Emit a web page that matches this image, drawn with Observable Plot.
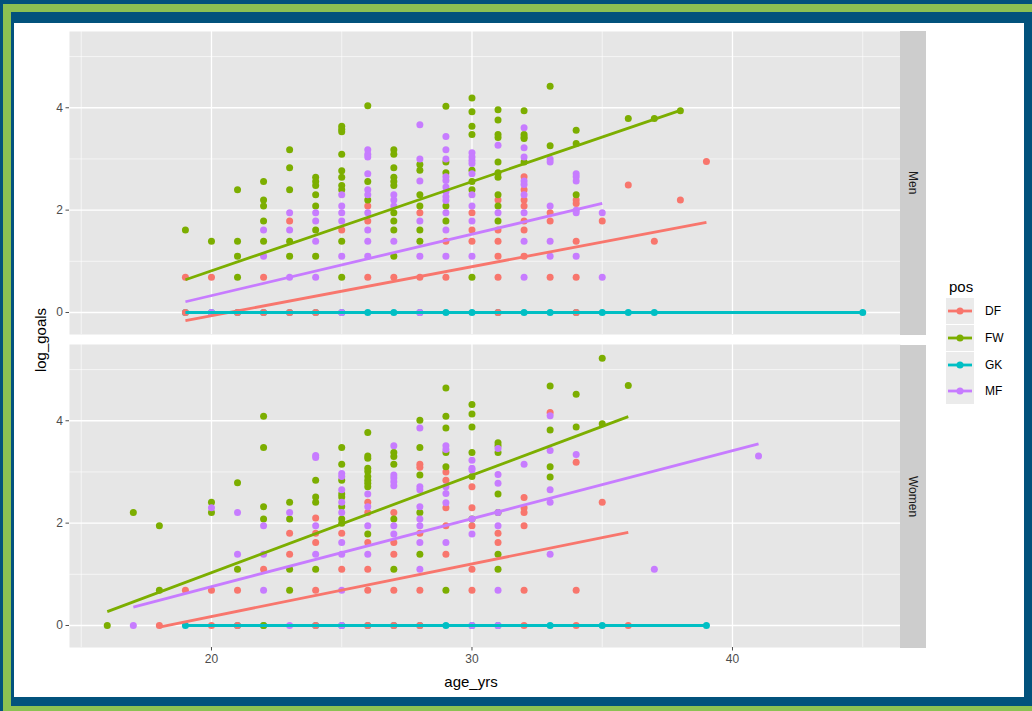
<!DOCTYPE html>
<html>
<head>
<meta charset="utf-8">
<script src="https://cdn.jsdelivr.net/npm/d3@7"></script>
<script src="https://cdn.jsdelivr.net/npm/@observablehq/plot@0.6"></script>
<style>
  html, body { margin: 0; padding: 0; }
  body { width: 1032px; height: 711px; background: #02527c; position: relative; overflow: hidden;
         font-family: "Liberation Sans", Arial, sans-serif; }
  .abs { position: absolute; }
  #gTop { left: 3px; top: 4px; width: 1029px; height: 8px; background: #8cc152; }
  #gLeft { left: 3px; top: 4px; width: 8px; height: 707px; background: #8cc152; }
  #gBot { left: 3px; top: 706px; width: 1029px; height: 5px; background: #8cc152; }
  #card { left: 14px; top: 23px; width: 1010px; height: 674px; background: #ffffff; }
  #chart { left: 29px; top: 31px; }
  .strip { left: 900px; width: 26px; background: #cdcdcd; display: flex; align-items: center; justify-content: center; }
  .strip span { writing-mode: vertical-rl; font-size: 12px; color: #1a1a1a; }
  #ylab { left: 40px; top: 340px; transform: translate(-50%, -50%) rotate(-90deg); font-size: 15px; color: #000; white-space: nowrap; }
  #xlab { left: 471px; top: 681px; transform: translate(-50%, -50%); font-size: 15px; color: #000; white-space: nowrap; }
  #legend { left: 946px; top: 277px; }
  #legend .ttl { font-size: 15px; color: #000; height: 21px; line-height: 20px; margin-left: 3px; }
  #legend .row { display: flex; align-items: center; height: 26.7px; }
  #legend .row span { font-size: 12px; color: #000; margin-left: 11px; }
</style>
</head>
<body>
<div class="abs" id="gTop"></div>
<div class="abs" id="gLeft"></div>
<div class="abs" id="gBot"></div>
<div class="abs" id="card"></div>
<div class="abs" id="chart"></div>
<div class="abs strip" style="top:31px;height:304px;"><span>Men</span></div>
<div class="abs strip" style="top:345px;height:303px;"><span>Women</span></div>
<div class="abs" id="ylab">log_goals</div>
<div class="abs" id="xlab">age_yrs</div>
<div class="abs" id="legend"></div>
<script>
// ---------- data (age, log_goals) ----------
const positions = ["DF", "FW", "GK", "MF"];
const posColors = ["#F8766D", "#7CAE00", "#00BFC4", "#C77CFF"];
const facets = ["Men", "Women"];
const xMajor = [20, 30, 40];
const xMinor = [15, 25, 35, 45];
const yMajor = [0, 2, 4];
const yMinor = [1, 3, 5];

const menGK = [[19,0],[20,0],[21,0],[22,0],[23,0],[24,0],[25,0],[26,0],[27,0],[28,0],[29,0],[30,0],[31,0],[32,0],[33,0],[34,0],[35,0],[36,0],[37,0],[45,0]];
const menDF = [[19,0.69],[19,0],[20,0.69],[21,0],[22,0.69],[22,0],[23,1.79],[23,0],[24,0],
  [25,1.61],[26,2.08],[26,1.79],[26,0.69],[27,0.69],[28,1.95],[28,0.69],[29,1.39],[29,0.69],
  [30,1.95],[30,1.61],[30,1.39],[31,2.20],[31,1.61],[31,1.39],[31,1.10],[31,0.69],[31,0],
  [32,2.65],[32,2.40],[32,2.20],[32,2.08],[32,1.79],[32,1.61],[32,1.10],
  [33,1.95],[33,1.79],[33,0.69],[34,2.20],[34,2.13],[34,1.39],[34,0.69],[34,0],
  [35,1.79],[36,2.49],[37,1.39],[38,2.20],[39,2.95]];
const menFW = [[19,1.61],[20,1.39],[21,2.40],[21,1.39],[21,1.10],[21,0.69],
  [22,2.56],[22,2.20],[22,2.08],[22,1.79],[22,1.39],
  [23,3.18],[23,2.83],[23,2.40],[23,1.39],[23,1.10],
  [24,2.64],[24,2.56],[24,2.48],[24,2.30],[24,2.08],[24,1.61],[24,1.10],
  [25,3.64],[25,3.58],[25,3.53],[25,3.09],[25,2.77],[25,2.64],[25,2.48],[25,2.40],[25,1.39],[25,0.69],
  [26,4.04],[26,2.56],[26,2.20],
  [27,3.18],[27,3.09],[27,2.83],[27,2.64],[27,2.56],[27,2.48],[27,1.95],[27,1.79],[27,1.61],[27,1.10],
  [28,2.89],[28,2.78],[28,2.30],[28,2.08],[28,1.61],[28,1.39],
  [29,4.03],[29,2.94],[29,2.73],[29,2.08],[29,1.79],
  [30,4.19],[30,3.92],[30,3.64],[30,3.48],[30,2.78],[30,2.56],[30,2.40],[30,0.69],
  [31,3.96],[31,3.76],[31,3.48],[31,3.42],[31,2.94],[31,2.73],[31,2.64],[31,2.30],[31,2.08],[31,1.79],
  [32,3.94],[32,3.48],[32,3.43],[32,3.40],[32,2.94],
  [33,4.42],[33,3.26],[34,3.56],[34,3.30],[34,2.30],[36,3.79],[37,3.79],[38,3.94]];
const menMF = [[20,0],[22,1.61],[22,1.10],[23,1.95],[23,1.61],[23,0.69],
  [24,1.95],[24,1.79],[24,1.39],[24,0.69],
  [25,2.30],[25,2.08],[25,1.95],[25,1.79],[25,1.10],[25,0],
  [26,3.18],[26,3.09],[26,3.04],[26,2.71],[26,2.40],[26,2.30],[26,1.95],[26,1.61],[26,1.39],[26,1.10],
  [27,2.30],[27,2.20],[27,2.08],[27,1.39],
  [28,3.67],[28,3.00],[28,2.57],[28,1.79],[28,1.10],[28,0],
  [29,3.44],[29,3.18],[29,3.00],[29,2.65],[29,2.58],[29,2.45],[29,2.36],[29,2.26],[29,2.19],[29,1.95],[29,1.61],[29,1.10],
  [30,3.12],[30,3.04],[30,2.97],[30,2.91],[30,2.71],[30,2.30],[30,2.08],[30,1.79],[30,1.10],
  [31,3.27],[31,1.95],
  [32,3.61],[32,3.22],[32,3.04],[32,2.57],[32,2.50],[32,2.30],[32,1.95],[32,1.39],[32,0.69],
  [33,3.00],[33,2.94],[33,2.08],[33,1.39],[33,1.10],
  [34,2.71],[34,2.65],[34,2.57],[34,2.00],[34,1.95],[34,1.10],
  [35,1.95],[35,0.69]];

const womenGK = [[19,0],[21,0],[22,0],[24,0],[25,0],[26,0],[27,0],[28,0],[29,0],[30,0],[31,0],[33,0],[35,0],[39,0]];
const womenDF = [[18,0],[19,0.69],[20,0.69],[20,0],[21,0.69],[21,0],[22,1.10],[23,1.80],[23,1.39],
  [24,2.10],[24,1.80],[24,1.62],[24,0.69],[24,0],[25,1.80],[25,1.10],
  [26,2.41],[26,2.21],[26,1.62],[26,1.10],[26,0.69],[26,0],
  [27,2.21],[27,1.62],[27,1.39],[27,0.69],[27,0],
  [28,3.15],[28,3.09],[28,1.80],[28,0.69],[28,0],
  [29,3.00],[29,2.84],[29,2.30],[29,1.95],[29,1.39],
  [30,2.71],[30,2.30],[30,1.95],[30,1.10],[30,0.69],
  [31,1.80],[31,1.62],[32,2.50],[32,2.30],[32,2.21],[32,1.95],[32,0.69],[32,0],
  [33,4.16],[34,3.19],[34,0.69],[34,0],[35,2.41],[36,0]];
const womenFW = [[16,0],[17,2.21],[18,1.95],[18,0.69],[20,2.41],[20,2.21],[21,2.79],[21,1.10],
  [22,4.09],[22,3.48],[22,2.32],[22,2.08],[22,0],
  [23,2.41],[23,2.08],[23,1.10],[23,0.69],
  [24,2.84],[24,2.51],[24,2.41],[24,1.10],
  [25,3.48],[25,3.15],[25,2.84],[25,2.57],[25,2.51],[25,2.32],[25,2.08],[25,2.00],
  [26,3.77],[26,3.31],[26,3.27],[26,3.07],[26,3.01],[26,2.91],[26,2.84],[26,2.78],[26,2.71],[26,1.79],
  [27,3.38],[27,3.30],[27,3.15],[27,2.08],[27,1.10],
  [28,4.01],[28,3.48],[28,2.94],[28,2.21],[28,1.39],
  [29,4.64],[29,4.09],[29,3.86],[29,3.38],[29,3.10],[29,0.69],
  [30,4.32],[30,4.13],[30,3.88],[30,3.38],[30,2.91],[30,2.08],
  [31,3.57],[31,3.51],[31,3.38],[31,2.57],[31,2.21],[31,1.39],[31,1.10],
  [33,4.68],[33,3.82],[33,3.10],[33,2.90],[34,4.52],[34,3.88],[35,5.22],[35,3.94],[36,4.69]];
const womenMF = [[17,0],[20,2.30],[21,2.21],[21,1.39],[22,1.95],[22,1.39],[22,0.69],[23,2.21],[23,0],
  [24,3.32],[24,3.28],[24,1.95],[24,1.39],
  [25,2.97],[25,2.91],[25,2.65],[25,2.41],[25,2.21],[25,1.62],[25,1.39],[25,0.69],[25,0],
  [26,2.57],[26,2.32],[26,1.95],[26,1.39],
  [27,3.51],[27,2.94],[27,2.88],[27,2.81],[27,2.73],[27,1.95],[27,1.79],
  [28,3.86],[28,2.71],[28,2.65],[28,2.32],[28,2.08],[28,1.95],[28,1.62],[28,1.10],
  [29,3.51],[29,3.44],[29,2.71],[29,2.58],[29,2.40],[29,1.62],
  [30,3.23],[30,3.07],[30,3.04],[30,2.08],[30,1.79],[30,0],
  [31,3.46],[31,2.95],[31,2.78],[31,2.21],[31,1.95],[31,0.69],[31,0],
  [32,3.15],[33,4.10],[33,3.42],[33,2.65],[33,2.41],[33,1.39],[34,3.34],[37,1.10],[41,3.31]];

// fitted lm lines: [pos, ageStart, valueStart, ageEnd, valueEnd]
const menFits = [["DF",19,-0.16,39,1.76],["FW",19,0.64,38,3.95],["GK",19,0,45,0],["MF",19,0.21,35,2.13]];
const womenFits = [["DF",18,-0.03,36,1.82],["FW",16,0.27,36,4.08],["GK",19,0,39,0],["MF",17,0.36,41,3.55]];

// ---------- build tables ----------
const groups = [
  ["Men","GK",menGK],["Men","DF",menDF],["Men","FW",menFW],["Men","MF",menMF],
  ["Women","GK",womenGK],["Women","DF",womenDF],["Women","FW",womenFW],["Women","MF",womenMF]
];
const points = [];
for (const [sex, pos, arr] of groups) for (const [age, v] of arr) points.push({sex, pos, age, v});
const lines = [];
for (const [sex, fits] of [["Men", menFits], ["Women", womenFits]]) {
  for (const [pos, a1, v1, a2, v2] of fits) {
    lines.push({sex, pos, key: sex + pos, age: a1, v: v1});
    lines.push({sex, pos, key: sex + pos, age: a2, v: v2});
  }
}

const chart = Plot.plot({
  width: 871,
  height: 647,
  marginLeft: 40,
  marginRight: 0,
  marginTop: 0,
  marginBottom: 30,
  style: {background: "transparent", fontFamily: "'Liberation Sans', Arial, sans-serif", overflow: "visible"},
  x: {domain: [14.55, 46.45]},
  y: {domain: [-0.43, 5.49]},
  fy: {domain: facets, paddingInner: 0.0319, paddingOuter: 0, axis: null},
  color: {domain: positions, range: posColors},
  marks: [
    Plot.frame({fill: "#e6e6e6", stroke: null}),
    Plot.gridX({ticks: xMinor, stroke: "#ffffff", strokeOpacity: 1, strokeWidth: 0.6}),
    Plot.gridY({ticks: yMinor, stroke: "#ffffff", strokeOpacity: 1, strokeWidth: 0.6}),
    Plot.gridX({ticks: xMajor, stroke: "#ffffff", strokeOpacity: 1, strokeWidth: 1.3}),
    Plot.gridY({ticks: yMajor, stroke: "#ffffff", strokeOpacity: 1, strokeWidth: 1.3}),
    Plot.axisY({ticks: yMajor, tickFormat: d => String(d), tickSize: 3.5, tickPadding: 3, fontSize: 12, color: "#4d4d4d", label: null}),
    Plot.axisX({ticks: xMajor, tickFormat: d => String(d), tickSize: 3.5, tickPadding: 3, fontSize: 12, color: "#4d4d4d", label: null}),
    Plot.dot(points, {x: "age", y: "v", fill: "pos", fy: "sex", r: 3.5}),
    Plot.line(lines, {x: "age", y: "v", stroke: "pos", z: "key", fy: "sex", strokeWidth: 2.8, strokeLinecap: "butt"})
  ]
});
document.getElementById("chart").appendChild(chart);

// ---------- legend ----------
const legend = document.getElementById("legend");
const t = document.createElement("div");
t.className = "ttl"; t.textContent = "pos";
legend.appendChild(t);
positions.forEach((p, i) => {
  const row = document.createElement("div");
  row.className = "row";
  row.innerHTML = `<svg width="28" height="26"><rect x="0" y="0" width="28" height="26" fill="#ebebeb"/>` +
    `<line x1="2" x2="26" y1="13" y2="13" stroke="${posColors[i]}" stroke-width="2.8"/>` +
    `<circle cx="14" cy="13" r="3.5" fill="${posColors[i]}"/></svg><span>${p}</span>`;
  legend.appendChild(row);
});
</script>
</body>
</html>
